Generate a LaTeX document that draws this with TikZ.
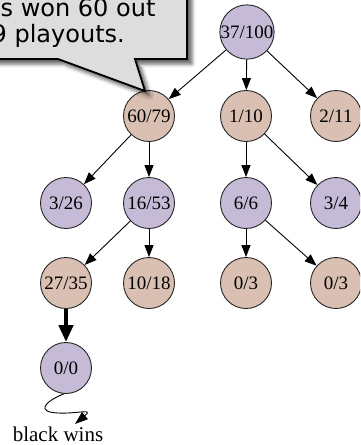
\documentclass[tikz,border=0pt]{standalone}
\usepackage{fontspec}
\setmainfont{Liberation Serif}
\newfontfamily\calloutfont{DejaVu Sans}
\usetikzlibrary{arrows.meta,shadows.blur}
\definecolor{movepurple}{RGB}{197,187,215}
\definecolor{movepink}{RGB}{218,192,178}
\definecolor{calloutgray}{RGB}{221,221,221}
\begin{document}
\begin{tikzpicture}[x=1pt,y=-1pt,
  stat/.style={circle,draw=black!85,line width=0.9pt,minimum size=51pt,
    inner sep=0pt,font=\fontsize{19}{20}\selectfont},
  purplenode/.style={stat,fill=movepurple},
  pinknode/.style={stat,fill=movepink},
  move/.style={line width=0.9pt,-{Triangle[length=12pt,width=9pt]}},
  bestmove/.style={line width=4.5pt,-{Triangle[length=17pt,width=14pt]}},
  playout/.style={line width=0.9pt,-{Triangle[length=13pt,width=9pt]}},
  callout/.style={line width=1.8pt,fill=calloutgray,
    blur shadow={shadow xshift=5pt,shadow yshift=-5pt,
      shadow blur radius=3.5pt,shadow opacity=60}},
  callouttext/.style={anchor=base west,inner sep=0pt,
    font=\calloutfont\fontsize{24}{26}\selectfont}
]
\useasboundingbox (0,0) rectangle (360,445);
\clip (0,0) rectangle (360,445);

% search tree
\node[purplenode] (r) at (247,32) {37/100};
\node[pinknode]   (a) at (149,116) {60/79};
\node[pinknode]   (b) at (246,116) {1/10};
\node[pinknode]   (c) at (336,116) {2/11};
\node[purplenode] (d) at (66,203) {3/26};
\node[purplenode] (e) at (149,203) {16/53};
\node[purplenode] (f) at (246,203) {6/6};
\node[purplenode] (g) at (336,203) {3/4};
\node[pinknode]   (h) at (66,283) {27/35};
\node[pinknode]   (i) at (149,283) {10/18};
\node[pinknode]   (j) at (246,283) {0/3};
\node[pinknode]   (k) at (336,283) {0/3};
\node[purplenode] (l) at (66,368) {0/0};

\draw[move] (r) -- (a);
\draw[move] (r) -- (b);
\draw[move] (r) -- (c);
\draw[move] (a) -- (d);
\draw[move] (a) -- (e);
\draw[move] (b) -- (f);
\draw[move] (b) -- (g);
\draw[move] (e) -- (h);
\draw[move] (e) -- (i);
\draw[move] (f) -- (j);
\draw[move] (f) -- (k);
\draw[bestmove] (h) -- (l);

% random playout from the new leaf
\coordinate (wintip) at (75,424);
\node[anchor=base,inner sep=0pt,font=\fontsize{21}{23}\selectfont]
  (win) at (58,441) {black wins};
\draw[playout] (l.265) .. controls (44,402) and (36,412) .. (58,413)
  .. controls (78,414) and (94,408) .. (wintip);

% speech bubble
\draw[callout] (-20,-20) -- (187,-20) -- (187,59) -- (135,59) -- (145,91)
  -- (58,59) -- (-20,59) -- cycle;
\node[callouttext] (line1) at (0.5,16) {s won 60 out};
\node[callouttext] (line2) at (-8.5,42) {9 playouts.};
\end{tikzpicture}
\end{document}
